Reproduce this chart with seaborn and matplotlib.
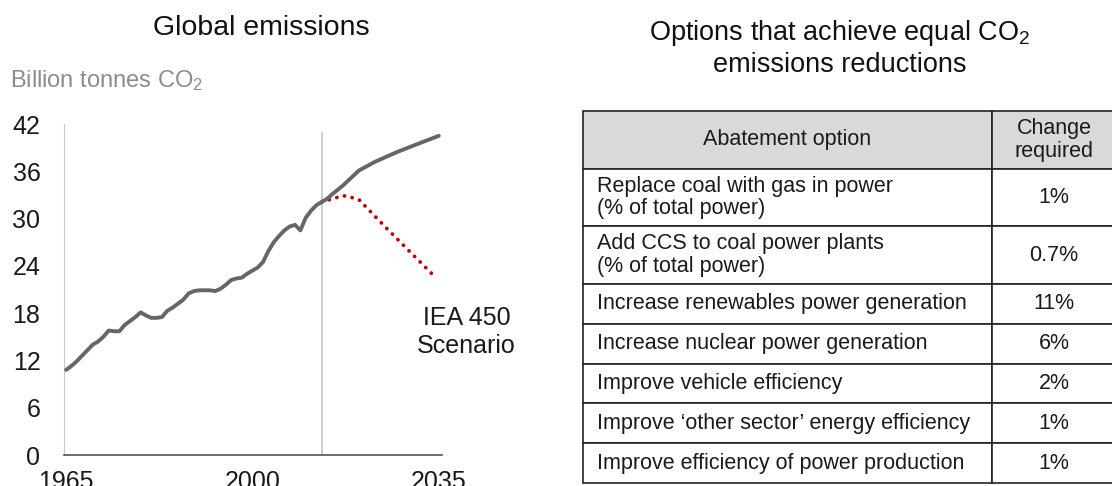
import matplotlib
matplotlib.use("Agg")
import matplotlib.pyplot as plt
from matplotlib.table import Table
import numpy as np
import pandas as pd
import seaborn as sns

# ---- data -------------------------------------------------------------
hist_years = list(range(1965, 2014))
hist_values = [10.8, 11.3, 11.9, 12.6, 13.3, 14.0, 14.4, 15.0, 15.8, 15.7,
               15.7, 16.5, 17.0, 17.5, 18.1, 17.7, 17.4, 17.4, 17.5, 18.3,
               18.7, 19.2, 19.7, 20.5, 20.8, 20.9, 20.9, 20.9, 20.8, 21.1,
               21.6, 22.2, 22.4, 22.5, 23.0, 23.4, 23.8, 24.5, 25.9, 27.0,
               27.8, 28.5, 29.0, 29.2, 28.5, 30.1, 31.0, 31.7, 32.1]

trend_years = [2014, 2015, 2017, 2020, 2023, 2027, 2030, 2035]
trend_values = [32.5, 33.1, 34.2, 36.1, 37.2, 38.4, 39.2, 40.5]

iea_years = [2013, 2015, 2017, 2018, 2020, 2025, 2030, 2034]
iea_values = [32.1, 32.5, 32.9, 32.8, 32.4, 28.9, 25.5, 22.8]

base_year = 2013
y_ticks = [0, 6, 12, 18, 24, 30, 36, 42]
x_ticks = [1965, 2000, 2035]

table_header = ["Abatement option", "Change\nrequired"]
options = [
    "Replace coal with gas in power\n(% of total power)",
    "Add CCS to coal power plants\n(% of total power)",
    "Increase renewables power generation",
    "Increase nuclear power generation",
    "Improve vehicle efficiency",
    "Improve \u2018other sector\u2019 energy efficiency",
    "Improve efficiency of power production",
]
changes = ["1%", "0.7%", "11%", "6%", "2%", "1%", "1%"]

# ---- style ------------------------------------------------------------
sns.set_style("white")
plt.rcParams["font.family"] = ["Liberation Sans", "DejaVu Sans"]
plt.rcParams["mathtext.fontset"] = "custom"
plt.rcParams["mathtext.rm"] = "Liberation Sans"
plt.rcParams["mathtext.it"] = "Liberation Sans:italic"
plt.rcParams["mathtext.default"] = "regular"

W, H = 1112, 486
fig = plt.figure(figsize=(W / 100, H / 100), dpi=100)
fig.patch.set_facecolor("white")

# ---- emissions line chart --------------------------------------------
ax = fig.add_axes([64 / W, 31 / H, 378 / W, 331 / H])
ax.set_facecolor("white")

emissions = pd.DataFrame({
    "year": hist_years + trend_years,
    "value": hist_values + trend_values,
})
scenario = pd.DataFrame({"year": iea_years, "value": iea_values})

ax.axvline(base_year, ymin=0, ymax=40.9 / 42, color="#c4c4c4", lw=1.2, zorder=1)
sns.lineplot(data=emissions, x="year", y="value", ax=ax, color="#666666",
             lw=2.8, zorder=3, solid_capstyle="round", solid_joinstyle="round")
sns.lineplot(data=scenario, x="year", y="value", ax=ax, color="#c00000",
             lw=2.7, linestyle=(0, (0.05, 2.05)), dash_capstyle="round",
             zorder=2)

ax.set_xlim(1964.6, 2035.6)
ax.set_ylim(0, 42)
ax.set_xticks(x_ticks)
ax.set_yticks(y_ticks)
ax.set_xlabel("")
ax.set_ylabel("")
sns.despine(ax=ax)
ax.spines["left"].set_color("#c8c8c8")
ax.spines["left"].set_linewidth(0.8)
ax.spines["bottom"].set_color("#555555")
ax.spines["bottom"].set_linewidth(1.2)
ax.tick_params(axis="y", direction="in", length=6, width=0.8, color="#c8c8c8",
               pad=17, labelsize=18, labelcolor="#1a1a1a")
ax.tick_params(axis="x", length=0, pad=11, labelsize=18, labelcolor="#1a1a1a")

ax.text(2040.2, 15.6, "IEA 450\nScenario", ha="center", va="center",
        fontsize=18, color="#1a1a1a", linespacing=1.2, clip_on=False)

fig.text(261 / W, 1 - 35 / H, "Global emissions", ha="center",
         va="baseline", fontsize=20.5, color="#111111")
fig.text(10 / W, 1 - 87 / H, "Billion tonnes CO$_2$", ha="left",
         va="baseline", fontsize=17, color="#8c8c8c")

# ---- abatement options table -----------------------------------------
fig.text(840 / W, 1 - 40 / H, "Options that achieve equal CO$_2$",
         ha="center", va="baseline", fontsize=19.5, color="#111111")
fig.text(840 / W, 1 - 72 / H, "emissions reductions",
         ha="center", va="baseline", fontsize=19.5, color="#111111")

tax = fig.add_axes([583 / W, 3 / H, 533 / W, 372 / H])
tax.axis("off")
table = Table(tax, bbox=[0, 0, 1, 1])
col_w = [409, 124]
rows = [table_header] + [[o, c] for o, c in zip(options, changes)]
for r, (left_txt, right_txt) in enumerate(rows):
    n_lines = max(left_txt.count("\n"), right_txt.count("\n")) + 1
    h = 22 + 18 * n_lines
    face = "#d9d9d9" if r == 0 else "white"
    c0 = table.add_cell(r, 0, width=col_w[0], height=h, text=left_txt,
                        loc="center" if r == 0 else "left", facecolor=face,
                        edgecolor="#222222")
    c1 = table.add_cell(r, 1, width=col_w[1], height=h, text=right_txt,
                        loc="center", facecolor=face, edgecolor="#222222")
    c0.PAD = 14 / col_w[0]
    for c in (c0, c1):
        c.set_linewidth(1.2)
        c.get_text().set_linespacing(1.1)
        c.get_text().set_color("#1a1a1a")
table.auto_set_font_size(False)
table.set_fontsize(15.5)
tax.add_table(table)

fig.savefig("out.png", dpi=100, facecolor="white")
